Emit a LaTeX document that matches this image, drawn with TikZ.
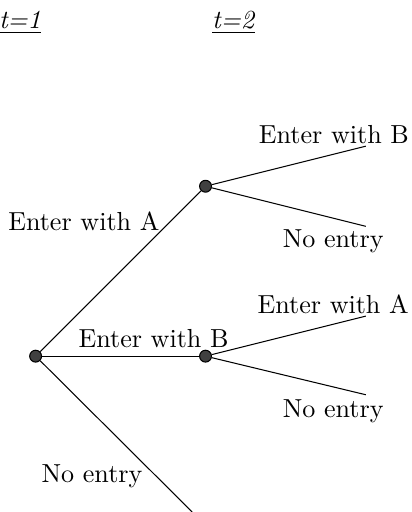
\documentclass[tikz,border=0pt]{standalone}
\begin{document}
\begin{tikzpicture}[dot/.style={circle, draw, fill=black!75, inner sep=0pt, minimum size=0.16cm}]
	\useasboundingbox (0,0) rectangle (5.55,6.90);
	\node (T1) at (0.27, 6.52)	[anchor=base]	{\underline{\textit{t=1}}};
	\node (T2) at (3.15, 6.52)	[anchor=base]	{\underline{\textit{t=2}}};
	\node (R) at (0.48, 2.10)	[dot]	{};
	\node (A) at (2.77, 4.39)	[dot]	{};
	\node (B) at (2.77, 2.10)	[dot]	{};
	\coordinate (N) at (2.59, 0.00);
	\coordinate (AB) at (4.93, 4.93);
	\coordinate (AN) at (4.93, 3.85);
	\coordinate (BA) at (4.93, 2.64);
	\coordinate (BN) at (4.93, 1.58);
	\draw (R) -- (A);
	\draw (R) -- (B);
	\draw (R) -- (N);
	\draw (A) -- (AB);
	\draw (A) -- (AN);
	\draw (B) -- (BA);
	\draw (B) -- (BN);
	\node (LA) at (1.13, 3.80)	[anchor=base]	{Enter with A};
	\node (LB) at (2.07, 2.22)	[anchor=base]	{Enter with B};
	\node (LN) at (1.24, 0.40)	[anchor=base]	{No entry};
	\node (LAB) at (4.50, 4.97)	[anchor=base]	{Enter with B};
	\node (LAN) at (4.49, 3.57)	[anchor=base]	{No entry};
	\node (LBA) at (4.49, 2.68)	[anchor=base]	{Enter with A};
	\node (LBN) at (4.49, 1.28)	[anchor=base]	{No entry};
\end{tikzpicture}
\end{document}
